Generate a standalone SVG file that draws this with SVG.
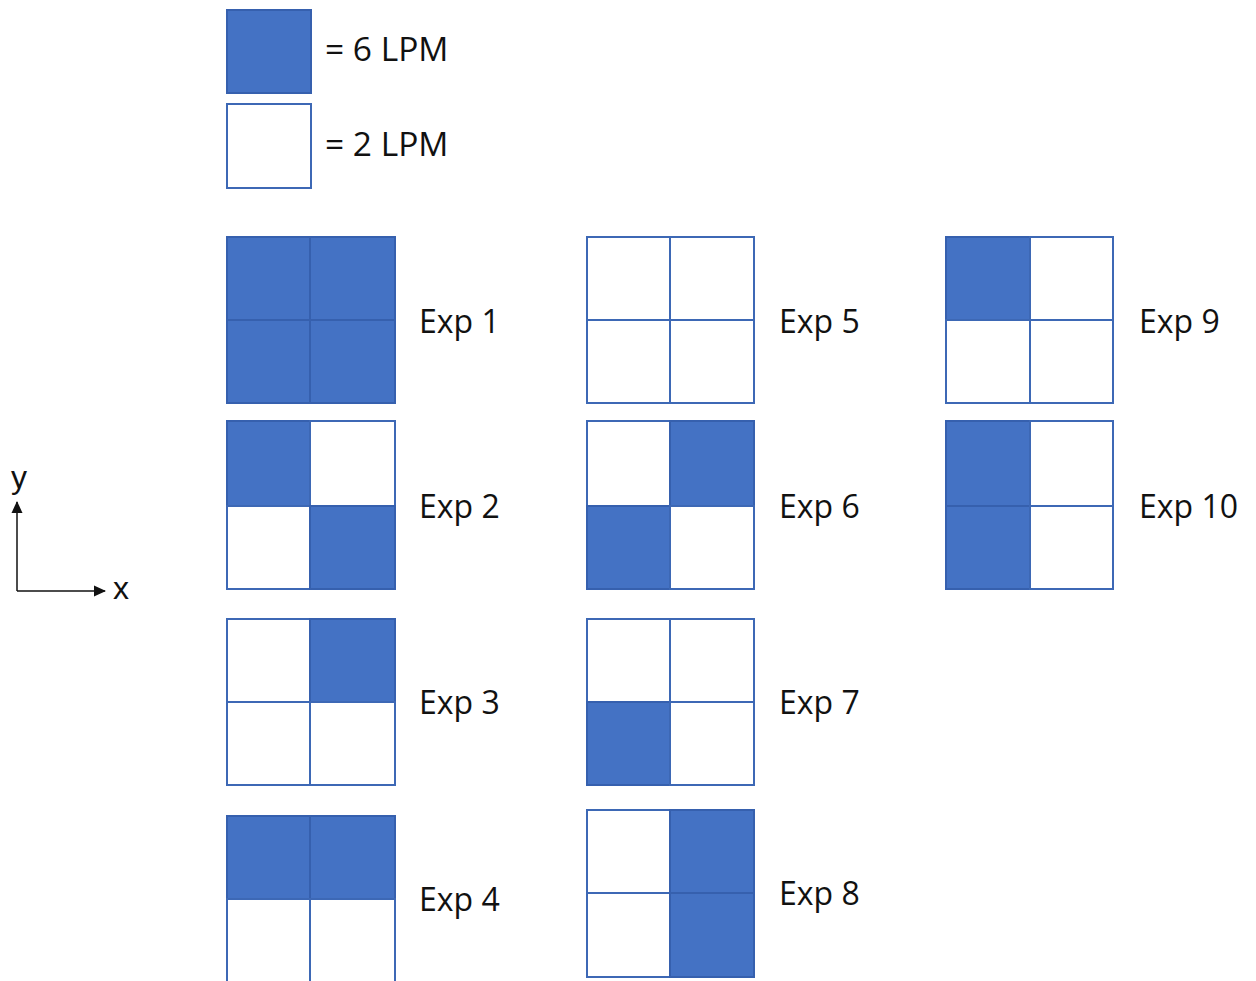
<svg xmlns="http://www.w3.org/2000/svg" width="1256" height="981" viewBox="0 0 1256 981">
<style>
.on{fill:#4472C4;stroke:#3660AE;stroke-width:2}
.off{fill:#ffffff;stroke:#3D68B5;stroke-width:2}
.lbl{font-family:"Open Sans","Liberation Sans",sans-serif;font-size:32px;fill:#111}
.leg{font-family:"Open Sans","Liberation Sans",sans-serif;font-size:33.5px;fill:#111}
.ax{font-family:"Liberation Sans","Open Sans",sans-serif;font-size:32px;fill:#111}
</style>
<defs>
<marker id="ah" markerWidth="12" markerHeight="12" refX="11" refY="6" orient="auto" markerUnits="userSpaceOnUse">
<path d="M0,0.5 L12,6 L0,11.5 Z" fill="#111"/>
</marker>
</defs>
<rect width="1256" height="981" fill="#fff"/>
<g id="legend">
<rect class="on" x="227" y="10" width="84" height="83"/>
<text class="leg" x="325" y="61">= 6 LPM</text>
<rect class="off" x="227" y="104" width="84" height="84"/>
<text class="leg" x="325" y="156">= 2 LPM</text>
</g>
<g id="exp1">
<rect class="on" x="227" y="237" width="83" height="83"/><rect class="on" x="310" y="237" width="85" height="83"/>
<rect class="on" x="227" y="320" width="83" height="83"/><rect class="on" x="310" y="320" width="85" height="83"/>
<text class="lbl" x="419" y="333">Exp 1</text>
</g>
<g id="exp2">
<rect class="on" x="227" y="421" width="83" height="85"/><rect class="off" x="310" y="421" width="85" height="85"/>
<rect class="off" x="227" y="506" width="83" height="83"/><rect class="on" x="310" y="506" width="85" height="83"/>
<text class="lbl" x="419" y="518">Exp 2</text>
</g>
<g id="exp3">
<rect class="off" x="227" y="619" width="83" height="83"/><rect class="on" x="310" y="619" width="85" height="83"/>
<rect class="off" x="227" y="702" width="83" height="83"/><rect class="off" x="310" y="702" width="85" height="83"/>
<text class="lbl" x="419" y="714">Exp 3</text>
</g>
<g id="exp4">
<rect class="on" x="227" y="816" width="83" height="83"/><rect class="on" x="310" y="816" width="85" height="83"/>
<rect class="off" x="227" y="899" width="83" height="86"/><rect class="off" x="310" y="899" width="85" height="86"/>
<text class="lbl" x="419" y="911">Exp 4</text>
</g>
<g id="exp5">
<rect class="off" x="587" y="237" width="83" height="83"/><rect class="off" x="670" y="237" width="84" height="83"/>
<rect class="off" x="587" y="320" width="83" height="83"/><rect class="off" x="670" y="320" width="84" height="83"/>
<text class="lbl" x="779" y="333">Exp 5</text>
</g>
<g id="exp6">
<rect class="off" x="587" y="421" width="83" height="85"/><rect class="on" x="670" y="421" width="84" height="85"/>
<rect class="on" x="587" y="506" width="83" height="83"/><rect class="off" x="670" y="506" width="84" height="83"/>
<text class="lbl" x="779" y="518">Exp 6</text>
</g>
<g id="exp7">
<rect class="off" x="587" y="619" width="83" height="83"/><rect class="off" x="670" y="619" width="84" height="83"/>
<rect class="on" x="587" y="702" width="83" height="83"/><rect class="off" x="670" y="702" width="84" height="83"/>
<text class="lbl" x="779" y="714">Exp 7</text>
</g>
<g id="exp8">
<rect class="off" x="587" y="810" width="83" height="83"/><rect class="on" x="670" y="810" width="84" height="83"/>
<rect class="off" x="587" y="893" width="83" height="84"/><rect class="on" x="670" y="893" width="84" height="84"/>
<text class="lbl" x="779" y="905">Exp 8</text>
</g>
<g id="exp9">
<rect class="on" x="946" y="237" width="84" height="83"/><rect class="off" x="1030" y="237" width="83" height="83"/>
<rect class="off" x="946" y="320" width="84" height="83"/><rect class="off" x="1030" y="320" width="83" height="83"/>
<text class="lbl" x="1139" y="333">Exp 9</text>
</g>
<g id="exp10">
<rect class="on" x="946" y="421" width="84" height="85"/><rect class="off" x="1030" y="421" width="83" height="85"/>
<rect class="on" x="946" y="506" width="84" height="83"/><rect class="off" x="1030" y="506" width="83" height="83"/>
<text class="lbl" x="1139" y="518">Exp 10</text>
</g>
<g id="connectors">
<line x1="17" y1="591" x2="17" y2="502" stroke="#111" stroke-width="1.5" marker-end="url(#ah)"/>
<line x1="17" y1="591" x2="105" y2="591" stroke="#111" stroke-width="1.5" marker-end="url(#ah)"/>
</g>
<g id="axis-labels">
<text class="ax" x="11" y="488">y</text>
<text class="ax" x="113" y="599">x</text>
</g>
</svg>
